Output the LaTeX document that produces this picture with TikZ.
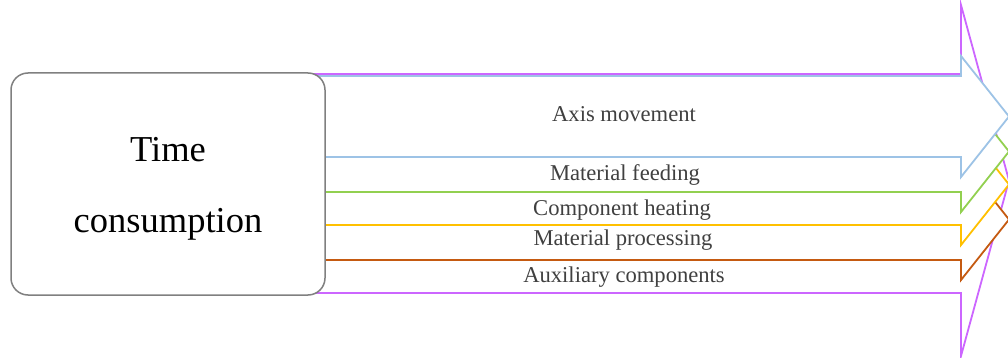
\documentclass[tikz,border=0pt]{standalone}
\usepackage{fontspec}
\setmainfont{Liberation Serif}
\usepackage{tikz}
\definecolor{FlowPurple}{HTML}{CC66FF}
\definecolor{FlowBlue}{HTML}{9DC3E6}
\definecolor{FlowGreen}{HTML}{92D050}
\definecolor{FlowOrange}{HTML}{FFC000}
\definecolor{FlowBrown}{HTML}{C55A11}
\definecolor{BoxGray}{HTML}{808080}
\definecolor{LabelGray}{HTML}{404040}

\begin{document}
\begin{tikzpicture}[x=1pt, y=-1pt,
    flow/.style={line width=1.8pt, fill=white},
    tag/.style={anchor=base, text=LabelGray, font=\fontsize{22.6}{26}\selectfont}]
      \useasboundingbox (0,0) rectangle (1008,358);
      % block arrows, back to front
      \draw[flow, draw=FlowPurple] (200,74) -- (961,74) -- (961,5) -- (1009,180.5)
      -- (961,356) -- (961,293) -- (200,293) -- cycle;
      \draw[flow, draw=FlowBrown] (200,179) -- (961,179) -- (961,159) -- (1009,219.5)
      -- (961,280) -- (961,260) -- (200,260) -- cycle;
      \draw[flow, draw=FlowOrange] (200,144) -- (961,144) -- (961,124) -- (1009,184.5)
      -- (961,245) -- (961,225) -- (200,225) -- cycle;
      \draw[flow, draw=FlowGreen] (200,111) -- (961,111) -- (961,91) -- (1009,151.5)
      -- (961,212) -- (961,192) -- (200,192) -- cycle;
      \draw[flow, draw=FlowBlue] (200,76) -- (961,76) -- (961,56) -- (1009,116.5)
      -- (961,177) -- (961,157) -- (200,157) -- cycle;
      \node[draw=BoxGray, line width=1.5pt, rounded corners=17pt, fill=white,
      minimum width=314pt, minimum height=222pt, inner sep=0pt] (box) at (168,184) {};
      \node[font=\fontsize{36.5}{71}\selectfont, align=center] (title) at (168,189)
      {Time\\consumption};
      \node[tag] (axis) at (624,122) {Axis movement};
      \node[tag] (feed) at (625,180) {Material feeding};
      \node[tag] (heat) at (622,215) {Component heating};
      \node[tag] (proc) at (623,245) {Material processing};
      \node[tag] (aux) at (624,282) {Auxiliary components};
    \end{tikzpicture}
\end{document}
